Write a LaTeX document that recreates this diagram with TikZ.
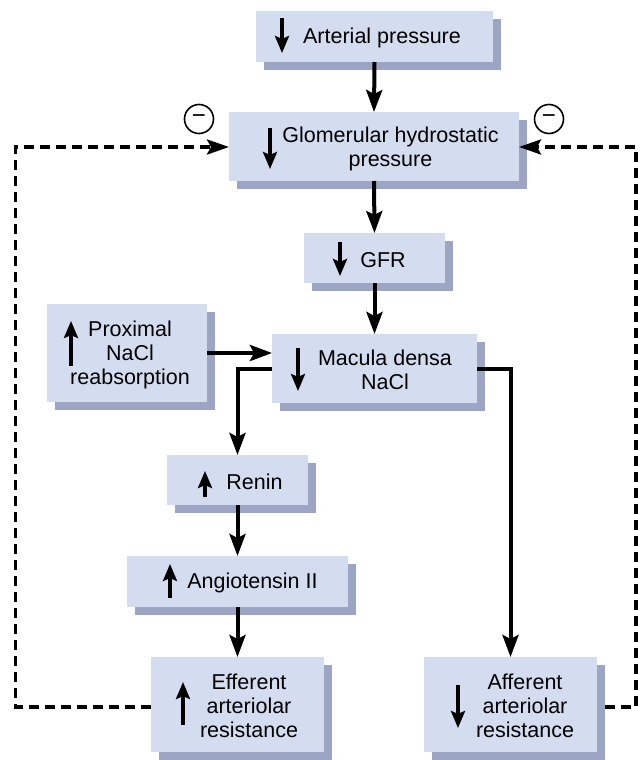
\documentclass[tikz,border=0pt]{standalone}
\usepackage{fontspec}
\setmainfont{Liberation Sans}
\usetikzlibrary{arrows.meta,calc,shadows}
\definecolor{boxc}{RGB}{212,221,239}
\definecolor{shad}{RGB}{156,166,196}
\begin{document}
\begin{tikzpicture}[x=1pt,y=-1pt,
  box/.style={fill=boxc, draw=none, inner sep=0pt, outer sep=0pt,
    drop shadow={shadow xshift=8pt,shadow yshift=-8pt,fill=shad,opacity=1}},
  txt/.style={font=\fontsize{21.5pt}{24pt}\selectfont, align=center, inner sep=0pt, yshift=-2pt},
  ind/.style={line width=3.6pt, -{Stealth[length=17pt,width=14pt,inset=3pt]}},
  conn/.style={line width=4pt, -{Stealth[length=22pt,width=16pt,inset=4pt]}},
  fb/.style={line width=3.5pt, dash pattern=on 10pt off 6pt, -{Stealth[length=22pt,width=15pt,inset=4pt]}},
  minus/.style={circle, draw, line width=1.6pt, minimum size=29pt, inner sep=0pt, font=\fontsize{24pt}{24pt}\selectfont}
]
\useasboundingbox (0,0) rectangle (641,760);

% boxes
\node[box, minimum width=237pt, minimum height=51pt] (ap) at (374.5,36.5) {};
\node[box, minimum width=290pt, minimum height=69pt] (gh) at (374,146.5) {};
\node[box, minimum width=141pt, minimum height=50pt] (gfr) at (374.5,258) {};
\node[box, minimum width=160pt, minimum height=98pt] (prox) at (127,353) {};
\node[box, minimum width=205pt, minimum height=69pt] (md) at (374.5,368.5) {};
\node[box, minimum width=141pt, minimum height=50pt] (ren) at (237.5,480) {};
\node[box, minimum width=221pt, minimum height=51pt] (ang) at (237.5,581.5) {};
\node[box, minimum width=173pt, minimum height=95pt] (eff) at (237.5,704.5) {};
\node[box, minimum width=173pt, minimum height=95pt] (aff) at (510.5,704.5) {};

% texts
\node[txt] (apt) at (382,36) {Arterial pressure};
\node[txt] (ght) at (390.5,147) {Glomerular hydrostatic\\pressure};
\node[txt] (gfrt) at (383,258) {GFR};
\node[txt] (proxt) at (130,353) {Proximal\\NaCl\\reabsorption};
\node[txt] (mdt) at (385,368) {Macula densa\\NaCl};
\node[txt] (rent) at (254.5,480) {Renin};
\node[txt] (angt) at (252.5,581) {Angiotensin II};
\node[txt] (efft) at (249,704) {Efferent\\arteriolar\\resistance};
\node[txt] (afft) at (525,704) {Afferent\\arteriolar\\resistance};

% indicator arrows
\draw[ind] (282,18) -- (282,53);
\draw[ind] (270,128) -- (270,169);
\draw[ind] (340,242) -- (340,276);
\draw[ind] (298,348) -- (298,391);
\draw[ind] (71,366) -- (71,321);
\draw[ind] (205,497) -- (205,471);
\draw[ind] (170,598) -- (170,564);
\draw[ind] (183,725) -- (183,682);
\draw[ind] (458,685) -- (458,728);

% connectors
\draw[conn] (ap.south) -- (gh.north);
\draw[conn] (gh.south) -- (gfr.north);
\draw[conn] (gfr.south) -- (md.north);
\draw[conn] (prox.east) -- (prox.east -| md.west);
\draw[conn] (md.west) -| (ren.north);
\draw[conn] (ren.south) -- (ang.north);
\draw[conn] (ang.south) -- (eff.north);
\draw[conn] (md.east) -| (aff.north);

% feedback
\coordinate (l1) at (15.7,707);
\coordinate (l2) at (15.7,147);
\coordinate (r0) at (605,707);
\coordinate (r1) at (636,707);
\coordinate (r2) at (636,147);
\draw[fb] (eff.west |- l1) -- (l1) -- (l2) -- (l2 -| gh.west);
\draw[fb] (r0) -- (r1) -- (r2) -- (r2 -| gh.east);

\node[minus] (m1) at (199,119) {−};
\node[minus] (m2) at (549,119) {−};
\end{tikzpicture}
\end{document}
